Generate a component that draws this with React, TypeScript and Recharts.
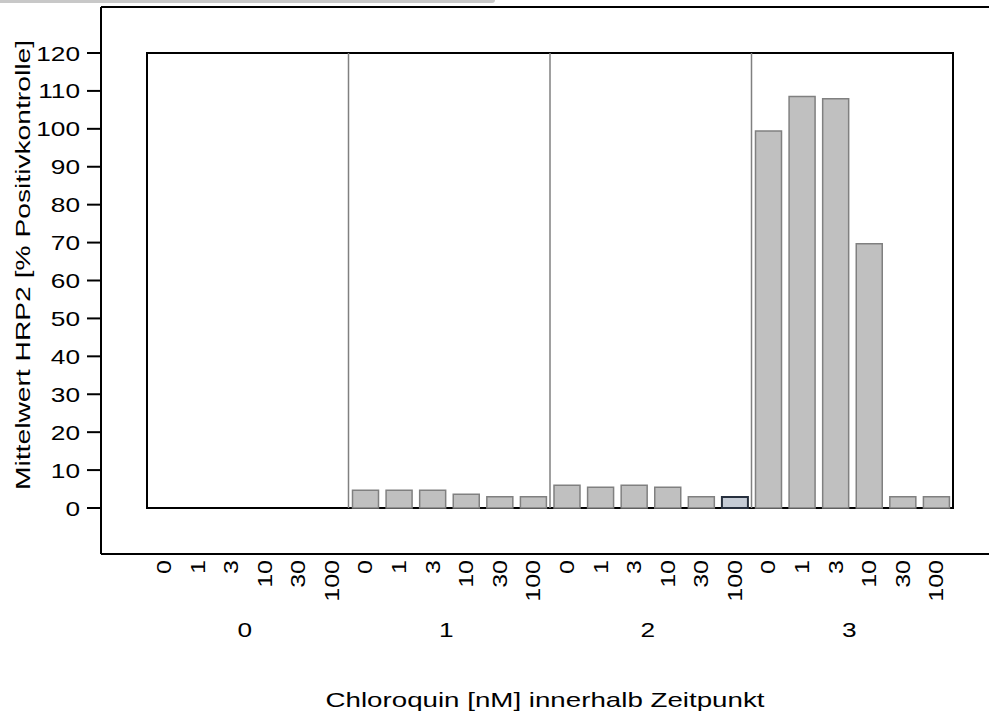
import React from "react";
import { Bar, BarChart, Cell, ReferenceArea, ReferenceLine, XAxis, YAxis } from "recharts";

// Werte (Mittelwert HRP2 in % der Positivkontrolle)
const ZEITPUNKTE = ["0", "1", "2", "3"];
const KONZENTRATIONEN = ["0", "1", "3", "10", "30", "100"];
const WERTE_T0 = [0, 0, 0, 0, 0, 0];
const WERTE_T1 = [4.7, 4.7, 4.7, 3.6, 3.0, 3.0];
const WERTE_T2 = [6.0, 5.5, 6.0, 5.5, 3.0, 2.9];
const WERTE_T3 = [99.4, 108.5, 107.9, 69.7, 3.0, 3.0];
const Y_TICKS = [0, 10, 20, 30, 40, 50, 60, 70, 80, 90, 100, 110, 120];
const Y_DOMAIN = [-12.13, 132.13];
const MARKIERT = "2|100";

const SERIEN = [WERTE_T0, WERTE_T1, WERTE_T2, WERTE_T3];
const data = ZEITPUNKTE.flatMap((t, gi) =>
  KONZENTRATIONEN.map((c, ci) => ({
    key: `${t}|${c}`,
    zeitpunkt: t,
    konz: c,
    wert: SERIEN[gi][ci],
  }))
);

const FONT = '"Liberation Sans", Arial, sans-serif';
const DEHNUNG = 1.25; // Schrift im Original ist breit gezogen
const PADDING = { left: 46, right: 36 };
const LINIE = { stroke: "#000", strokeWidth: 2 };

function WertTick(props: any) {
  const { x, y, payload } = props;
  return (
    <g transform={`translate(${x},${y}) scale(${DEHNUNG},1)`}>
      <text x={0} y={0} dy="0.36em" textAnchor="end" fontSize={21} fontFamily={FONT} fill="#000">
        {payload.value}
      </text>
    </g>
  );
}

function KonzTick(props: any) {
  const { x, y, payload } = props;
  const konz = String(payload.value).split("|")[1];
  return (
    <g transform={`translate(${x},${y}) rotate(-90) scale(${DEHNUNG},1)`}>
      <text x={0} y={0} dy="0.36em" textAnchor="end" fontSize={20} fontFamily={FONT} fill="#000">
        {konz}
      </text>
    </g>
  );
}

function GruppeTick(props: any) {
  const { x, y, payload } = props;
  return (
    <g transform={`translate(${x - 3},${y + 19}) scale(${DEHNUNG},1)`}>
      <text x={0} y={0} textAnchor="middle" fontSize={21} fontFamily={FONT} fill="#000">
        {payload.value}
      </text>
    </g>
  );
}

function XTitel(props: any) {
  const vb = props.viewBox;
  return (
    <text
      x={vb.x + vb.width / 2}
      y={vb.y + 89}
      textAnchor="middle"
      fontSize={21}
      fontFamily={FONT}
      textLength={439}
      lengthAdjust="spacingAndGlyphs"
      fill="#000"
    >
      Chloroquin [nM] innerhalb Zeitpunkt
    </text>
  );
}

function YTitel(props: any) {
  const vb = props.viewBox;
  const cx = vb.x + 30;
  const cy = vb.y + 258;
  return (
    <text
      x={cx}
      y={cy}
      transform={`rotate(-90 ${cx} ${cy})`}
      textAnchor="middle"
      fontSize={21}
      fontFamily={FONT}
      textLength={450}
      lengthAdjust="spacingAndGlyphs"
      fill="#000"
    >
      Mittelwert HRP2 [% Positivkontrolle]
    </text>
  );
}

export default function App() {
  const erste = data[0].key;
  const letzte = data[data.length - 1].key;
  const grenzen = [6, 12, 18].map((i) => data[i].key);

  return (
    <div style={{ position: "absolute", left: 0, top: 0, width: 989, height: 718, background: "#fff" }}>
      <div
        style={{
          position: "absolute",
          left: 0,
          top: 0,
          width: 495,
          height: 3,
          background: "#c8c8c8",
          borderBottomRightRadius: 3,
        }}
      />
      <BarChart
        width={989}
        height={718}
        data={data}
        margin={{ top: 7, right: 0, bottom: 0, left: 0 }}
        barCategoryGap={4}
      >
        <XAxis
          dataKey="key"
          height={64}
          interval={0}
          padding={PADDING}
          tickSize={0}
          tickMargin={6}
          tickLine={false}
          axisLine={LINIE}
          tick={<KonzTick />}
        />
        <XAxis
          xAxisId="gruppe"
          dataKey="zeitpunkt"
          allowDuplicatedCategory={false}
          height={100}
          interval={0}
          padding={PADDING}
          tickSize={0}
          tickMargin={0}
          tickLine={false}
          axisLine={false}
          tick={<GruppeTick />}
          label={{ content: XTitel }}
        />
        <YAxis
          width={101}
          domain={Y_DOMAIN}
          ticks={Y_TICKS}
          interval={0}
          tickSize={14}
          tickMargin={7}
          axisLine={LINIE}
          tickLine={LINIE}
          tick={<WertTick />}
          label={{ content: YTitel }}
        />
        <Bar dataKey="wert" fill="#c0c0c0" stroke="#808080" strokeWidth={1.5} isAnimationActive={false}>
          {data.map((d) => (
            <Cell
              key={d.key}
              fill={d.key === MARKIERT ? "#c5ccd6" : "#c0c0c0"}
              stroke={d.key === MARKIERT ? "#27303e" : "#808080"}
              strokeWidth={d.key === MARKIERT ? 2 : 1.5}
            />
          ))}
        </Bar>
        {grenzen.map((k) => (
          <ReferenceLine
            key={k}
            segment={[
              { x: k, y: 0 },
              { x: k, y: 120 },
            ]}
            position="start"
            stroke="#808080"
            strokeWidth={1.5}
          />
        ))}
        <ReferenceLine y={Y_DOMAIN[1]} ifOverflow="visible" stroke="#000" strokeWidth={2} />
        <ReferenceArea
          x1={erste}
          x2={letzte}
          y1={0}
          y2={120}
          ifOverflow="visible"
          fill="none"
          fillOpacity={0}
          stroke="#000"
          strokeWidth={2}
        />
      </BarChart>
    </div>
  );
}
